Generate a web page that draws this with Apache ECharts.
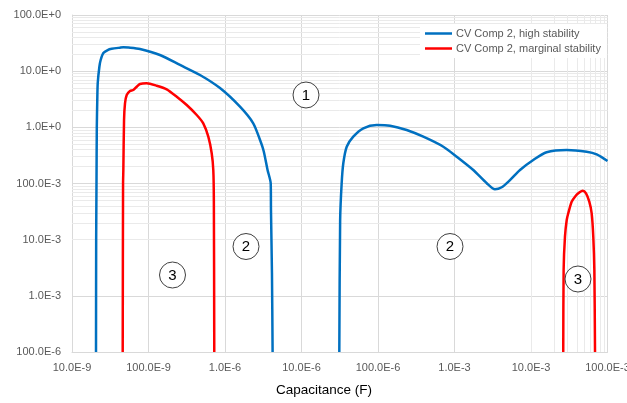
<!DOCTYPE html>
<html>
<head>
<meta charset="utf-8">
<script src="https://cdn.jsdelivr.net/npm/echarts@6/dist/echarts.min.js"></script>
<style>
html,body{margin:0;padding:0;background:#fff;}
#chart{width:627px;height:403px;}
</style>
</head>
<body>
<div id="chart"></div>
<script>
// Capacitance (F) vs value, two stability curves, each in two segments
var seriesNames = ["CV Comp 2, high stability", "CV Comp 2, marginal stability"];
var xTitle = "Capacitance (F)";

var blueSeg1 = [
  [2.06e-8, 1e-4], [2.07e-8, 0.01], [2.09e-8, 0.1], [2.11e-8, 1], [2.14e-8, 3.07],
  [2.17e-8, 6.15], [2.28e-8, 12.0], [2.37e-8, 15.8], [2.57e-8, 21.0], [2.93e-8, 23.8],
  [3.3e-8, 25.0], [4.24e-8, 26.2], [4.69e-8, 26.6], [5.5e-8, 26.3], [7.74e-8, 24.8],
  [1.41e-7, 19.4], [2.58e-7, 12.9], [4.71e-7, 8.55], [8.6e-7, 5.0], [1.57e-6, 2.33],
  [2.34e-6, 1.18], [2.87e-6, 0.595], [3.2e-6, 0.38], [3.6e-6, 0.174], [3.96e-6, 0.1],
  [3.99e-6, 0.0337], [4.11e-6, 2.55e-3], [4.19e-6, 1e-4]
];
var blueSeg2 = [
  [3.12e-5, 1e-4], [3.2e-5, 0.0224], [3.35e-5, 0.101], [3.52e-5, 0.229], [3.9e-5, 0.452],
  [4.75e-5, 0.681], [6.43e-5, 0.962], [9.62e-5, 1.10], [1.44e-4, 1.07], [2.37e-4, 0.897],
  [3.91e-4, 0.681], [7.14e-4, 0.452], [1.07e-3, 0.300], [1.76e-3, 0.174], [2.64e-3, 0.101],
  [3.38e-3, 0.0789], [4.14e-3, 0.0857], [5.31e-3, 0.115], [7.18e-3, 0.174], [1.07e-2, 0.262],
  [1.6e-2, 0.36], [2.93e-2, 0.395], [5.34e-2, 0.368], [7.22e-2, 0.331], [0.1, 0.252]
];
var redSeg1 = [
  [4.6e-8, 1e-4], [4.65e-8, 0.1], [4.69e-8, 0.174], [4.79e-8, 1.35], [4.93e-8, 2.68],
  [5.19e-8, 3.76], [5.73e-8, 4.44], [6.33e-8, 4.62], [7.01e-8, 5.29], [7.74e-8, 5.91],
  [9.46e-8, 6.08], [1.28e-7, 5.51], [1.73e-7, 4.75], [2.34e-7, 3.51], [3.16e-7, 2.5],
  [4.27e-7, 1.66], [5.2e-7, 1.18], [6.05e-7, 0.681], [6.7e-7, 0.345], [7.03e-7, 0.174],
  [7.15e-7, 0.05], [7.24e-7, 1e-4]
];
var redSeg2 = [
  [2.64e-2, 1e-4], [2.67e-2, 2.88e-3], [2.78e-2, 1.13e-2], [2.93e-2, 0.0224], [3.07e-2, 0.0295],
  [3.4e-2, 0.0474], [3.76e-2, 0.0582], [4.15e-2, 0.067], [4.74e-2, 0.0745], [5.24e-2, 0.067],
  [5.78e-2, 0.0474], [6.21e-2, 0.0295], [6.52e-2, 0.0113], [6.73e-2, 2.88e-3], [6.87e-2, 1e-4]
];

var xRange = [1e-8, 0.1];
var yRange = [1e-4, 100];

// region annotations (circled numbers)
var annotations = [
  {label: "1", x: 306, y: 95},
  {label: "2", x: 246, y: 246.5},
  {label: "2", x: 450, y: 246.5},
  {label: "3", x: 172.5, y: 275},
  {label: "3", x: 578, y: 279}
];

function fmt(v) {
  var e = Math.round(Math.log10(v));
  var e3 = Math.floor(e / 3) * 3;
  var m = Math.pow(10, e - e3);
  return m.toFixed(1) + "E" + (e3 >= 0 ? "+" : "-") + Math.abs(e3);
}

function minorValues(range) {
  var out = [];
  var lo = Math.round(Math.log10(range[0])), hi = Math.round(Math.log10(range[1]));
  for (var k = lo; k < hi; k++) {
    for (var m = 2; m <= 9; m++) out.push(+(m * Math.pow(10, k)).toPrecision(3));
  }
  return out;
}

var minorLines = [];
minorValues(xRange).forEach(function (v) { minorLines.push({xAxis: v}); });
minorValues(yRange).forEach(function (v) { minorLines.push({yAxis: v}); });

var BLUE = "#0070C0", RED = "#FF0000";
var FONT = "Liberation Sans";

function lineSeries(name, data, color) {
  return {
    name: name, type: "line", data: data, showSymbol: false, symbol: "none",
    smooth: 0.25,
    lineStyle: {color: color, width: 2.5}, itemStyle: {color: color},
    z: 5, animation: false, clip: true
  };
}

var graphics = [];
annotations.forEach(function (a) {
  graphics.push({
    type: "circle", shape: {cx: a.x, cy: a.y, r: 13}, z: 100,
    style: {fill: "#fff", stroke: "#404040", lineWidth: 1}
  });
  graphics.push({
    type: "text", x: a.x, y: a.y + 0.5, z: 101,
    style: {text: a.label, fill: "#000", font: "15px " + FONT, textAlign: "center", textVerticalAlign: "middle"}
  });
});
graphics.push({
  type: "text", x: 324, y: 390, z: 101,
  style: {text: xTitle, fill: "#000", font: "13.5px " + FONT, textAlign: "center", textVerticalAlign: "middle"}
});

var chart = echarts.init(document.getElementById("chart"), null, {renderer: "canvas"});
chart.setOption({
  animation: false,
  backgroundColor: "#fff",
  grid: {left: 72, right: 19.5, top: 15, bottom: 51, containLabel: false, outerBoundsMode: "none"},
  legend: {
    orient: "vertical", left: 420, top: 24, itemGap: 4, itemWidth: 27, itemHeight: 2.5,
    icon: "rect", z: 50,
    padding: [4, 6, 4, 5], backgroundColor: "#fff",
    data: seriesNames,
    textStyle: {fontFamily: FONT, fontSize: 11, color: "#595959", lineHeight: 10, padding: [0, 0, 0, -1]}
  },
  xAxis: {
    type: "log", logBase: 10, min: xRange[0], max: xRange[1], splitNumber: 7,
    axisLine: {show: true, lineStyle: {color: "#d9d9d9"}},
    axisTick: {show: false},
    axisLabel: {formatter: fmt, fontFamily: FONT, fontSize: 11, color: "#595959", margin: 10, showMinLabel: true, showMaxLabel: true},
    splitLine: {show: true, lineStyle: {color: "#d9d9d9", width: 1}}
  },
  yAxis: {
    type: "log", logBase: 10, min: yRange[0], max: yRange[1], splitNumber: 6,
    axisLine: {show: true, lineStyle: {color: "#d9d9d9"}},
    axisTick: {show: false},
    axisLabel: {formatter: fmt, fontFamily: FONT, fontSize: 11, color: "#595959", margin: 11},
    splitLine: {show: true, lineStyle: {color: "#d9d9d9", width: 1}}
  },
  series: [
    {
      name: "minor-grid", type: "line", data: [], z: 1, silent: true, animation: false,
      markLine: {
        silent: true, symbol: ["none", "none"], animation: false,
        label: {show: false}, emphasis: {disabled: true},
        lineStyle: {color: "#eaeaea", width: 1, type: "solid"},
        data: minorLines
      }
    },
    lineSeries(seriesNames[0], blueSeg1, BLUE),
    lineSeries(seriesNames[0], blueSeg2, BLUE),
    lineSeries(seriesNames[1], redSeg1, RED),
    lineSeries(seriesNames[1], redSeg2, RED)
  ],
  graphic: graphics
});
</script>
</body>
</html>
